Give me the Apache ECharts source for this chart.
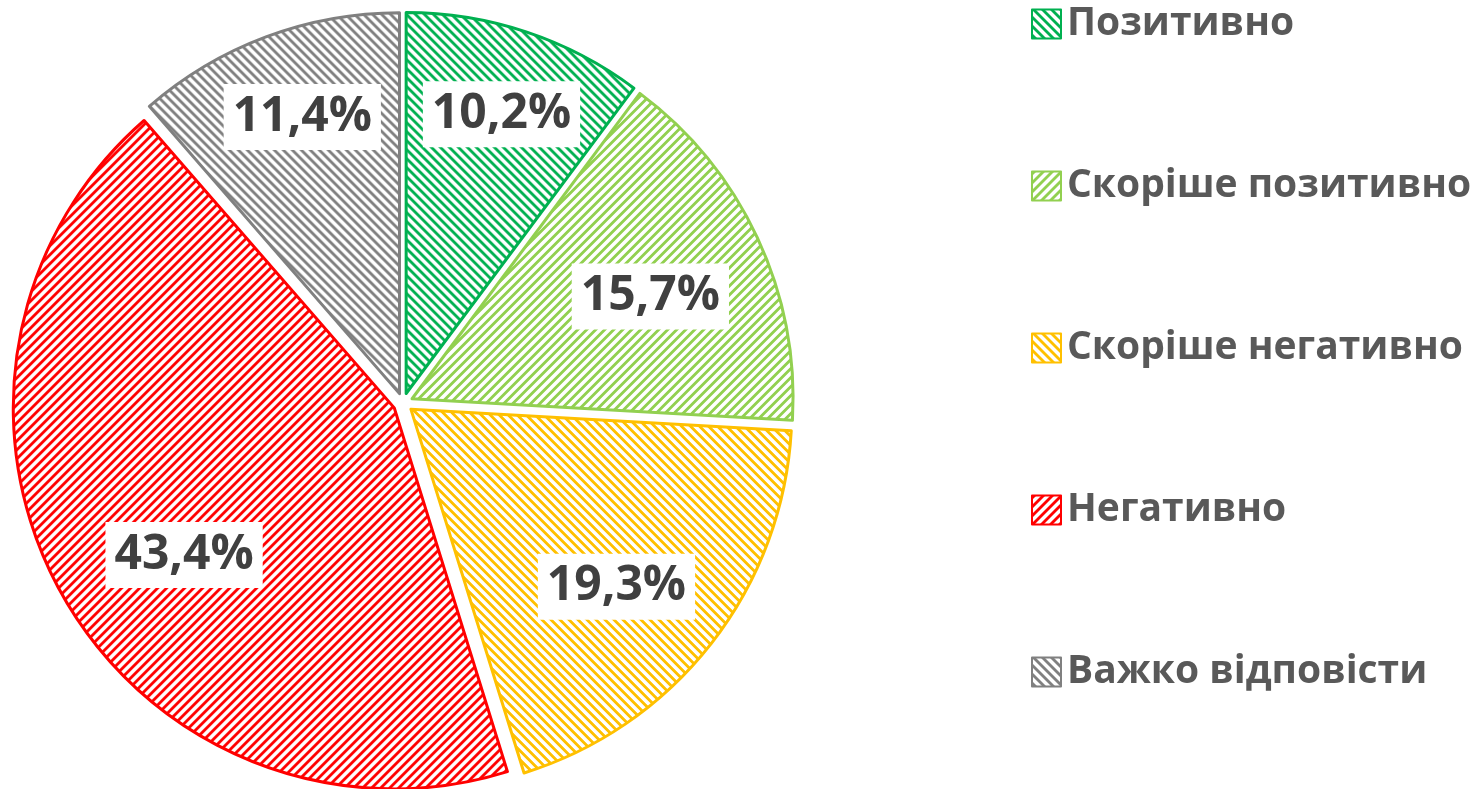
<!DOCTYPE html>
<html lang="uk">
<head>
    <meta charset="UTF-8">
    <title>Pie</title>
    <script src="https://cdn.jsdelivr.net/npm/echarts@6/dist/echarts.min.js"></script>
    <style>
        html, body { margin: 0; padding: 0; background: #fff; }
        #main { width: 1472px; height: 789px; }
    </style>
</head>
<body>
<div id="main"></div>
<script>
    // data
    var names = ['Позитивно', 'Скоріше позитивно', 'Скоріше негативно', 'Негативно', 'Важко відповісти'];
    var values = [10.2, 15.7, 19.3, 43.4, 11.4];
    var colors = ['#00B050', '#92D050', '#FFC000', '#FF0000', '#808080'];
    var hatchDir = [-1, 1, -1, 1, -1];   // 1 = "/", -1 = "\"

    // small striped tile used as fill
    function hatch(color, dir)
    {
        var n = 9;
        var c = document.createElement('canvas');
        c.width = n; c.height = n;
        var ctx = c.getContext('2d');
        ctx.fillStyle = '#fff';
        ctx.fillRect(0, 0, n, n);
        ctx.fillStyle = color;
        for (var y = 0; y < n; y++) {
            for (var x = 0; x < n; x++) {
                var k = dir > 0 ? (x + y) % n : ((x - y) % n + n) % n;
                if (k < 4) ctx.fillRect(x, y, 1, 1);
            }
        }
        return c;
    }

    var center = [403, 403];
    var R = 381;
    var base = 0.72;
    // small hand nudges so the boxes sit where Excel put them
    var nudge = [[8, -16], [-13, 15], [-13, 7], [32, 12], [0, -17]];

    var pieData = names.map(function (n, i) {
        var st = {
            color: { image: hatch(colors[i], hatchDir[i]), repeat: 'repeat' },
            borderColor: colors[i],
            borderWidth: 3
        };
        return { name: n, value: values[i], selected: true, itemStyle: st, select: { itemStyle: st } };
    });

    var labelData = names.map(function (n, i) {
        return { name: n, value: values[i], selected: true };
    });

    var myChart = echarts.init(document.getElementById('main'));

    var option = {
        animation: false,
        legend: {
            orient: 'vertical',
            left: 1026,
            top: -1,
            icon: 'rect',
            itemWidth: 29,
            itemHeight: 29,
            itemGap: 122,
            data: names,
            selectedMode: false,
            textStyle: {
                color: '#595959',
                fontFamily: 'Open Sans',
                fontWeight: 'bold',
                fontSize: 39,
                lineHeight: 40,
                padding: [0, 0, 0, 1]
            }
        },
        series: [{
            name: 'main',
            type: 'pie',
            center: center,
            radius: R,
            startAngle: 90,
            clockwise: true,
            selectedMode: 'multiple',
            selectedOffset: 10,
            emphasis: { disabled: true },
            label: { show: false },
            labelLine: { show: false },
            data: pieData
        }, {
            name: 'labels',
            type: 'pie',
            center: center,
            radius: [R * (2 * base - 1), R],
            startAngle: 90,
            clockwise: true,
            selectedMode: 'multiple',
            selectedOffset: 10,
            silent: true,
            legendHoverLink: false,
            emphasis: { disabled: true },
            itemStyle: { color: 'rgba(0,0,0,0)', borderWidth: 0 },
            select: { itemStyle: { color: 'rgba(0,0,0,0)', borderWidth: 0 } },
            labelLine: { show: false },
            labelLayout: function (p) {
                return { dx: nudge[p.dataIndex][0], dy: nudge[p.dataIndex][1] };
            },
            label: {
                show: true,
                position: 'inside',
                formatter: function (p) { return String(p.value).replace('.', ',') + '%'; },
                color: '#404040',
                fontFamily: 'Open Sans',
                fontWeight: 'bold',
                fontSize: 48,
                lineHeight: 56,
                backgroundColor: '#ffffff',
                padding: [5, 9, 5, 9]
            },
            data: labelData
        }]
    };

    myChart.setOption(option);
</script>
</body>
</html>
